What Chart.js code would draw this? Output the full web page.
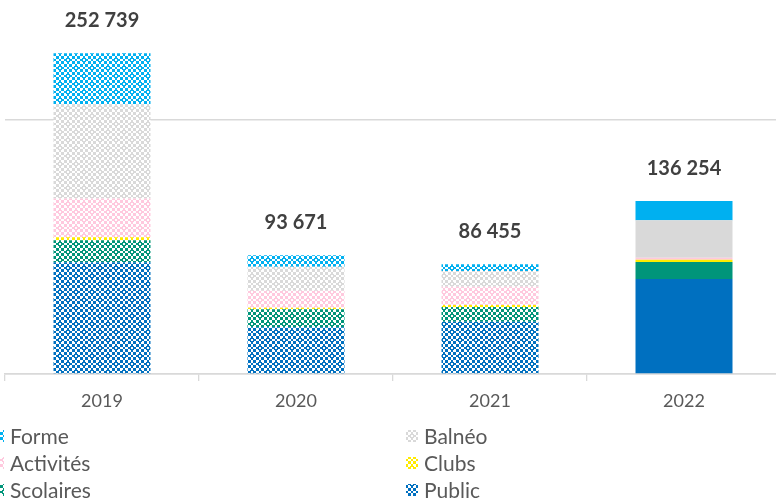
<!DOCTYPE html>
<html><head><meta charset="utf-8">
<script src="https://cdn.jsdelivr.net/npm/chart.js@4"></script>
<style>
html,body{margin:0;padding:0;overflow:hidden;background:#fff;width:776px;height:502px}
#wrap{position:absolute;left:0;top:0;width:781px;height:502px}
</style>
</head><body><div id="wrap"><canvas id="c" width="781" height="502"></canvas></div>
<script>
const categories = ['2019', '2020', '2021', '2022'];
const seriesNames = ['Public', 'Scolaires', 'Clubs', 'Activités', 'Balnéo', 'Forme'];
const publicVals    = [88000, 36770, 41180, 74800];
const scolairesVals = [17400, 14170, 11570, 13390];
const clubsVals     = [2400, 1260, 1570, 1810];
const activitesVals = [30500, 13390, 14410, 1570];
const balneoVals    = [74200, 18900, 12360, 29680];
const formeVals     = [40239, 9181, 5365, 15004];
const totalLabels   = [252739, 93671, 86455, 136254];
const yTicks = [0, 200000];
const yMax = 290000;
const patternedCats = [true, true, true, false];

const seriesValues = [publicVals, scolairesVals, clubsVals, activitesVals, balneoVals, formeVals];
const seriesColors = ['#0070C0', '#00957A', '#FFEB00', '#FFC9DE', '#D9D9D9', '#00B0F0'];

function makePattern(color) {
  const S = 32;
  const cv = document.createElement('canvas');
  cv.width = S; cv.height = S;
  const cx = cv.getContext('2d');
  cx.fillStyle = '#ffffff';
  cx.fillRect(0, 0, S, S);
  cx.fillStyle = color;
  const sc = 0.75, N = 4;
  for (let y = 0; y < S; y++) {
    for (let x = 0; x < S; x++) {
      let white = 0;
      for (let sy = 0; sy < N; sy++) for (let sx = 0; sx < N; sx++) {
        const u = Math.floor((x + (sx + 0.5) / N) * sc);
        const v = Math.floor((y + (sy + 0.5) / N) * sc);
        if ((Math.floor(u / 2) + Math.floor(v / 2)) % 2 === 1) white++;
      }
      if (white / (N * N) < 0.65) cx.fillRect(x, y, 1, 1);
    }
  }
  return cx.createPattern(cv, 'repeat');
}
const patterns = seriesColors.map(makePattern);

const fmt = n => String(n).replace(/\B(?=(\d{3})+(?!\d))/g, ' ');

const datasets = seriesNames.map((name, i) => ({
  label: name,
  data: seriesValues[i],
  backgroundColor: categories.map((c, k) => patternedCats[k] ? patterns[i] : seriesColors[i]),
  borderWidth: 0,
  categoryPercentage: 1.0,
  barPercentage: 0.5
}));

const labelPlugin = {
  id: 'totals',
  afterDatasetsDraw(chart) {
    const ctx = chart.ctx;
    const last = chart.getDatasetMeta(chart.data.datasets.length - 1);
    ctx.save();
    ctx.font = 'bold 20px Lato';
    ctx.fillStyle = '#404040';
    ctx.textAlign = 'center';
    ctx.textBaseline = 'middle';
    last.data.forEach((bar, i) => {
      ctx.fillText(fmt(totalLabels[i]), bar.x, bar.y - 33);
    });
    ctx.restore();
  }
};

const legendPlugin = {
  id: 'customLegend',
  afterDraw(chart) {
    const ctx = chart.ctx;
    const order = ['Forme', 'Balnéo', 'Activités', 'Clubs', 'Scolaires', 'Public'];
    const rowY = [436, 463, 490];
    const colX = [-8, 406];
    ctx.save();
    ctx.font = '21px Lato';
    ctx.textBaseline = 'middle';
    order.forEach((name, k) => {
      const idx = seriesNames.indexOf(name);
      const r = Math.floor(k / 2), c = k % 2;
      const x = colX[c], y = rowY[r];
      ctx.fillStyle = patterns[idx];
      ctx.fillRect(x, y - 6, 12, 12);
      ctx.fillStyle = '#595959';
      ctx.fillText(name, x + 18, y + 1);
    });
    ctx.restore();
  }
};

new Chart(document.getElementById('c'), {
  type: 'bar',
  data: { labels: categories, datasets },
  options: {
    responsive: false,
    animation: false,
    devicePixelRatio: 1,
    layout: { padding: { top: 6, left: 5, right: 0, bottom: 0 } },
    plugins: { legend: { display: false }, tooltip: { enabled: false } },
    scales: {
      x: {
        stacked: true,
        grid: { offset: true, drawOnChartArea: false, tickLength: 7, color: '#d9d9d9', lineWidth: 1.3 },
        border: { color: '#d9d9d9', width: 1.5 },
        ticks: { color: '#595959', font: { family: 'Lato', size: 18 }, padding: 9 },
        afterFit(s) { s.height = 128; }
      },
      y: {
        stacked: true,
        min: 0,
        max: yMax,
        ticks: { display: false },
        border: { display: false },
        grid: { color: '#d9d9d9', lineWidth: 1.5, drawTicks: false },
        afterBuildTicks(s) { s.ticks = yTicks.map(v => ({ value: v })); },
        afterFit(s) { s.width = 0; }
      }
    }
  },
  plugins: [labelPlugin, legendPlugin]
});
</script>
</body></html>
